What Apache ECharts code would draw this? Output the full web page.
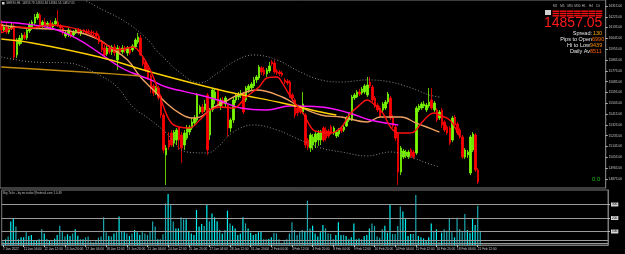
<!DOCTYPE html>
<html>
<head>
<meta charset="utf-8">
<script src="https://cdn.jsdelivr.net/npm/echarts@6/dist/echarts.min.js"></script>
<style>
  html, body { margin: 0; padding: 0; background: #000; }
  #chart { width: 625px; height: 254px; }
</style>
</head>
<body>
<div id="chart"></div>
<script>
// GER30 H4 bars, [open, close, low, high]
const candles = [
  [16165,16115,16090,16198],[16115,16140,16098,16157],[16140,16098,16082,16182],[16098,16132,16082,16148],
  [16132,16148,16115,16182],[16148,15890,15865,16165],[15907,16032,15882,16048],[15998,16048,15982,16073],
  [16032,16073,15998,16090],[16073,16048,16032,16098],[16048,16115,16032,16132],[16107,16157,16090,16182],
  [16140,16182,16115,16198],[16173,16223,16157,16248],[16215,16248,16198,16265],[16240,16140,16132,16257],
  [16148,16182,16132,16198],[16182,16157,16140,16215],[16148,16173,16132,16190],[16173,16140,16123,16198],
  [16140,16165,16123,16182],[16165,16190,16148,16215],[16182,16148,16140,16282],[16148,16132,16107,16165],
  [16132,16090,16073,16148],[16065,16090,16048,16107],[16082,16115,16057,16132],[16107,16065,16048,16123],
  [16073,16098,16057,16115],[16090,16115,16082,16132],[16115,16090,16073,16132],[16082,16107,16065,16123],
  [16115,16107,16090,16123],[16107,16090,16082,16123],[16107,16098,16082,16123],[16098,16090,16073,16115],
  [16090,16082,16065,16107],[16090,16065,16048,16107],[16065,16015,15998,16082],[16015,15949,15932,16032],
  [15965,15907,15890,15990],[15915,15965,15899,15982],[15965,15932,15915,15990],[15932,15974,15907,15990],
  [15974,15924,15899,15998],[15865,15965,15782,15990],[15965,15932,15907,15982],[15932,15965,15915,15990],
  [15965,15940,15924,15982],[15924,15965,15899,15982],[15957,15924,15907,15974],[15949,15982,15932,15998],
  [15974,16032,15957,16048],[16015,16057,15998,16090],[16048,15907,15899,16073],[15882,15832,15815,15899],
  [15849,15782,15765,15865],[15799,15715,15699,15815],[15732,15632,15590,15749],[15649,15590,15565,15665],
  [15590,15632,15574,15649],[15632,15549,15532,15649],[15565,15407,15382,15582],[15407,15116,15091,15424],
  [15074,15132,14824,15157],[15199,15141,15116,15265],[15257,15157,15141,15282],[15174,15265,15141,15282],
  [15199,15282,15157,15299],[15299,15199,15116,15315],[15240,15132,15007,15265],[15157,15257,15116,15282],
  [15215,15299,15199,15324],[15265,15307,15240,15324],[15299,15349,15282,15382],[15340,15382,15324,15407],
  [15365,15574,15349,15590],[15432,15474,15415,15490],[15474,15432,15415,15499],[15449,15499,15432,15532],
  [15574,15116,15074,15590],[15240,15449,15199,15465],[15449,15615,15432,15632],[15532,15599,15499,15632],
  [15615,15482,15465,15632],[15482,15532,15449,15549],[15532,15499,15474,15557],[15499,15549,15465,15565],
  [15490,15299,15224,15507],[15299,15365,15265,15382],[15365,15532,15340,15557],[15532,15565,15507,15590],
  [15557,15582,15532,15599],[15574,15590,15549,15615],[15590,15432,15415,15599],[15532,15632,15515,15649],
  [15615,15649,15590,15665],[15632,15665,15615,15682],[15649,15699,15632,15724],[15699,15724,15674,15740],
  [15715,15807,15699,15824],[15799,15765,15740,15815],[15782,15749,15732,15807],[15749,15782,15724,15799],
  [15774,15815,15757,15849],[15849,15832,15815,15865],[15840,15765,15749,15865],[15774,15757,15740,15790],
  [15765,15749,15732,15782],[15757,15740,15724,15774],[15699,15682,15665,15715],[15690,15674,15657,15707],
  [15682,15565,15549,15699],[15574,15549,15532,15590],[15532,15407,15382,15549],[15465,15424,15399,15482],
  [15474,15432,15415,15490],[15432,15499,15415,15599],[15407,15157,15132,15424],[15199,15141,15116,15215],
  [15132,15240,15099,15257],[15157,15224,15116,15249],[15182,15249,15132,15265],[15199,15257,15149,15282],
  [15199,15265,15157,15282],[15299,15199,15182,15315],[15282,15215,15190,15307],[15274,15232,15215,15290],
  [15307,15257,15240,15324],[15257,15299,15240,15315],[15232,15265,15215,15282],[15249,15282,15224,15299],
  [15299,15274,15257,15315],[15282,15307,15265,15324],[15315,15382,15307,15399],[15365,15399,15349,15424],
  [15365,15557,15357,15574],[15549,15574,15532,15590],[15557,15599,15549,15615],[15599,15582,15565,15624],
  [15590,15624,15574,15640],[15599,15649,15582,15665],[15574,15657,15557,15724],[15682,15649,15632,15724],
  [15640,15532,15515,15657],[15549,15482,15465,15565],[15490,15449,15432,15507],[15465,15399,15382,15482],
  [15449,15499,15432,15515],[15465,15515,15449,15532],[15515,15582,15499,15599],[15549,15382,15365,15565],
  [15382,15315,15299,15407],[15307,15215,15190,15324],[15249,14932,14824,15265],[14932,15132,14907,15149],
  [15057,15107,15041,15124],[15066,15099,15049,15116],[15057,15099,15041,15116],[15116,15066,15049,15132],
  [15099,15057,15041,15116],[15091,15465,15074,15482],[15449,15482,15432,15499],[15465,15499,15449,15515],
  [15482,15499,15465,15524],[15449,15490,15432,15507],[15482,15515,15465,15632],[15532,15465,15449,15632],
  [15449,15507,15432,15524],[15449,15365,15349,15465],[15382,15432,15365,15449],[15449,15324,15299,15465],
  [15349,15282,15265,15365],[15307,15257,15240,15324],[15299,15174,15157,15315],[15199,15382,15182,15399],
  [15390,15324,15299,15407],[15332,15257,15240,15349],[15282,15224,15207,15299],[15224,15057,15041,15240],
  [15057,15116,15041,15132],[15074,15099,15049,15116],[14924,15224,14907,15240],[15116,15249,15099,15265],
  [15240,14949,14932,15257],[14949,14849,14832,14966]
];

// tick counts of the "Big Ticks" window, one per bar
const ticks = [
  25,42,62,173,192,136,42,57,57,94,67,74,37,37,42,116,86,44,32,32,47,74,143,94,62,79,67,86,116,69,
  42,42,57,62,25,20,32,54,62,205,94,67,62,86,94,210,99,94,86,67,86,111,94,74,106,86,74,96,173,136,
  42,42,79,308,377,294,173,123,123,205,190,190,106,86,74,259,136,155,141,303,173,234,205,175,111,86,111,254,160,143,
  123,74,86,205,160,123,91,74,81,94,99,42,42,44,57,91,86,42,17,30,42,86,168,111,74,94,111,
  106,328,123,143,86,62,94,148,123,86,81,42,74,168,74,74,67,42,57,160,42,49,42,67,74,123,160,141,62,54,
  116,143,91,301,81,81,141,284,247,192,67,81,81,370,67,57,49,30,57,160,99,116,20,91,116,106,192,94,57,202,
  116,94,229,111,91,197,148,291,106
];

// indicator lines, sparse [barIndex, price] points
const fastMa = [
  [0,16090],[7,16140],[11,16132],[19,16157],[26,16140],[33,16098],[38,16032],[42,15974],[45,15949],
  [49,15965],[51,15974],[55,15890],[59,15724],[63,15474],[66,15340],[69,15307],[73,15299],[77,15365],
  [81,15449],[85,15474],[90,15465],[95,15557],[100,15640],[103,15715],[107,15724],[109,15674],[113,15532],
  [117,15424],[121,15282],[124,15265],[128,15257],[132,15307],[135,15407],[139,15490],[142,15532],
  [144,15507],[148,15424],[151,15307],[154,15257],[158,15257],[160,15265],[163,15340],[166,15407],
  [168,15424],[170,15407],[174,15365],[177,15265],[178,15224]
];
const midMa = [
  [0,16157],[9,16132],[19,16123],[31,16090],[38,16032],[42,15974],[49,15865],[54,15724],[59,15615],
  [64,15507],[69,15424],[74,15382],[77,15390],[82,15465],[88,15532],[92,15574],[99,15615],[109,15557],
  [116,15474],[124,15407],[132,15390],[142,15349],[147,15390],[151,15390],[155,15390],[161,15340],
  [165,15307],[170,15265]
];
const midMaRising = [[15,22],[77,92],[130,134],[146,151]];
const slowMa = [
  [0,16182],[6,16173],[19,16132],[29,16048],[38,15924],[46,15807],[51,15757],[58,15699],[64,15640],
  [77,15574],[84,15532],[93,15465],[103,15449],[112,15482],[124,15474],[135,15424],[143,15365],[154,15324]
];
const trendMa = [
  [0,16040],[12,16007],[38,15890],[58,15765],[77,15657],[90,15590],[109,15507],[124,15432],[130,15407]
];
const longMa = [[0,15807],[19,15782],[38,15757],[54,15732]];
const upperBand = [
  [31,16382],[38,16298],[45,16223],[50,16157],[54,16090],[58,16007],[60,15949],[64,15865],[68,15782],
  [77,15674],[84,15757],[90,15849],[98,15907],[107,15865],[116,15765],[124,15699],[132,15682],[142,15699],
  [151,15682],[159,15632],[166,15574],[170,15557]
];
const lowerBand = [
  [0,15890],[12,15849],[26,15840],[38,15740],[45,15640],[51,15474],[58,15365],[64,15257],[72,15099],
  [80,15091],[84,15141],[90,15265],[98,15324],[107,15282],[116,15199],[124,15132],[132,15099],[142,15066],
  [151,15099],[159,15057],[165,15007],[170,14974]
];

const dateLabels = [
  "7 Jan 2022","11 Jan 04:00","12 Jan 12:00","13 Jan 20:00","17 Jan 04:00","18 Jan 12:00",
  "19 Jan 20:00","21 Jan 04:00","24 Jan 12:00","25 Jan 20:00","27 Jan 04:00","28 Jan 12:00",
  "31 Jan 20:00","2 Feb 04:00","3 Feb 12:00","4 Feb 20:00","8 Feb 04:00","9 Feb 12:00",
  "10 Feb 20:00","14 Feb 04:00","15 Feb 12:00","16 Feb 20:00","18 Feb 04:00","21 Feb 12:00"
];
const priceTicks = [14875,14965,15055,15145,15235,15325,15415,15505,15595,15685,15775,15865,15955,16045,16135,16225,16315];
const tickLevels = [100, 200, 300];
const lastPrice = 14857.05;

const BAR_SLOTS = 235;
const LABEL_STEP = 8;
const categories = Array.from({ length: BAR_SLOTS }, (_, i) => String(i));

const FONT = "Liberation Sans";
const AXIS_GREY = "#7a7a7a";
const UP = "#7cfc00";
const DOWN = "#ff0000";

const chart = echarts.init(document.getElementById("chart"), null, { renderer: "canvas" });

const isDateTick = (i) => i % LABEL_STEP === 0 && i / LABEL_STEP < dateLabels.length;

function maLine(name, data, color, extra) {
  return Object.assign({
    name,
    type: "line",
    data,
    smooth: 0.4,
    showSymbol: false,
    silent: true,
    z: 4,
    lineStyle: { color, width: 1.4 },
  }, extra || {});
}

const tfLabels = ["M1", "M5", "M15", "M30", "H1", "H4", "D1"];
const panelGraphics = [];
tfLabels.forEach((tf, i) => {
  const x = 553 + i * 7.2;
  panelGraphics.push({
    type: "text", left: x, top: 5,
    style: { text: tf, fill: "#bdbdbd", font: `3px ${FONT}` },
  });
  for (let r = 0; r < 3; r++) {
    panelGraphics.push({
      type: "rect", shape: { x: x - 0.5, y: 10.5 + r * 2.3, width: 6.6, height: 1.4 },
      style: { fill: "#ff1010" },
    });
  }
});
panelGraphics.push(
  { type: "rect", shape: { x: 545, y: 10, width: 6, height: 5 }, style: { fill: "#cfcfcf" } },
  { type: "text", left: 544, top: 16, style: { text: "14857.05", fill: "#ff1a1a", font: `14px ${FONT}` } },
  { type: "text", right: 33, top: 30.5, style: { text: "Spread:", fill: "#e8e8e8", font: `5.5px ${FONT}`, align: "right" } },
  { type: "text", left: 593, top: 30.5, style: { text: "130", fill: "#ffa500", font: `5.5px ${FONT}` } },
  { type: "text", right: 33, top: 36.5, style: { text: "Pips to Open", fill: "#e8e8e8", font: `5.5px ${FONT}`, align: "right" } },
  { type: "text", left: 592, top: 36.5, style: { text: "6990", fill: "#ff6a00", font: `5.5px ${FONT}` } },
  { type: "text", right: 35, top: 42.5, style: { text: "Hi to Low", fill: "#e8e8e8", font: `5.5px ${FONT}`, align: "right" } },
  { type: "text", left: 590, top: 42.5, style: { text: "9439", fill: "#ff8c00", font: `5.5px ${FONT}` } },
  { type: "text", right: 35, top: 48.5, style: { text: "Daily Av", fill: "#e8e8e8", font: `5.5px ${FONT}`, align: "right" } },
  { type: "text", left: 590, top: 48.5, style: { text: "8511", fill: "#ff5a00", font: `5.5px ${FONT}` } },
  { type: "text", left: 592, top: 176, style: { text: "0.0", fill: "#1fbf1f", font: `6px ${FONT}` } },
  { type: "rect", shape: { x: 2, y: 2, width: 2.5, height: 2.5 }, style: { fill: "#d0d0d0" } },
  { type: "text", left: 6, top: 1.5, style: { text: "GER30,H4  14859.78 14920.84 14846.56 14857.05", fill: "#bdbdbd", font: `3px ${FONT}` } },
  { type: "text", left: 3, top: 192, style: { text: "Big Ticks - by mr.esdar@hotmail.com 1.0.49", fill: "#bdbdbd", font: `3px ${FONT}` } }
);

const option = {
  backgroundColor: "#000",
  animation: false,
  grid: [
    { left: 0, right: 17, top: 0, height: 188, show: true, borderColor: AXIS_GREY, borderWidth: 1, backgroundColor: "#000" },
    { left: 0, right: 17, top: 190, height: 55, show: true, borderColor: AXIS_GREY, borderWidth: 1, backgroundColor: "#000" },
  ],
  xAxis: [
    {
      type: "category", gridIndex: 0, data: categories, boundaryGap: true,
      axisLine: { show: false }, axisTick: { show: false }, axisLabel: { show: false }, splitLine: { show: false },
    },
    {
      type: "category", gridIndex: 1, data: categories, boundaryGap: true,
      axisLine: { show: true, lineStyle: { color: AXIS_GREY } },
      axisTick: { show: true, interval: (i) => isDateTick(i), length: 2, alignWithLabel: true, lineStyle: { color: "#bdbdbd" } },
      axisLabel: {
        show: true, interval: (i) => isDateTick(i),
        formatter: (v, i) => dateLabels[i / LABEL_STEP] || "",
        color: "#c8c8c8", fontSize: 3.2, fontFamily: FONT, align: "left", margin: 3,
      },
      splitLine: { show: false },
    },
  ],
  yAxis: [
    {
      type: "value", gridIndex: 0, position: "right", min: 14799, max: 16365, scale: true,
      axisLine: { show: true, lineStyle: { color: AXIS_GREY } },
      axisTick: { show: true, length: 2, customValues: priceTicks, lineStyle: { color: "#bdbdbd" } },
      axisLabel: {
        show: true, customValues: priceTicks, formatter: (v) => v.toFixed(2),
        color: "#c8c8c8", fontSize: 3.2, fontFamily: FONT, margin: 3,
      },
      splitLine: { show: false },
    },
    {
      type: "value", gridIndex: 1, position: "right", min: 0, max: 407,
      axisLine: { show: true, lineStyle: { color: AXIS_GREY } },
      axisTick: { show: true, length: 2, customValues: tickLevels, lineStyle: { color: "#bdbdbd" } },
      axisLabel: {
        show: true, customValues: tickLevels, formatter: (v) => String(v),
        color: "#000", backgroundColor: "#d8d8d8", padding: [0.5, 1], fontSize: 3.2, fontFamily: FONT, margin: 3,
      },
      splitLine: { show: false },
    },
  ],
  visualMap: [
    {
      type: "piecewise", show: false, seriesIndex: 2, dimension: 0,
      pieces: midMaRising.map(([a, b]) => ({ gte: a, lte: b, color: "#1fa8e6" })),
      outOfRange: { color: "#f0a060" },
    },
  ],
  graphic: panelGraphics,
  series: [
    {
      name: "GER30", type: "candlestick", xAxisIndex: 0, yAxisIndex: 0, data: candles,
      barWidth: 2, silent: true, z: 2,
      itemStyle: { color: UP, color0: DOWN, borderColor: UP, borderColor0: DOWN, borderWidth: 0.8 },
      markLine: {
        silent: true, symbol: "none",
        lineStyle: { opacity: 0 },
        data: [{ yAxis: lastPrice }],
        label: {
          position: "end", formatter: lastPrice.toFixed(2), color: "#000", backgroundColor: "#fff",
          fontSize: 3.4, fontFamily: FONT, padding: [0.6, 1], distance: 2,
        },
      },
    },
    maLine("fast", fastMa, "#ff1010", { z: 5 }),
    maLine("mid", midMa, "#f0a060"),
    maLine("slow", slowMa, "#ff10ff"),
    maLine("trend", trendMa, "#ffd000"),
    maLine("long", longMa, "#c08a10"),
    maLine("upper", upperBand, "#8a8a8a", { lineStyle: { color: "#8a8a8a", width: 1, type: [1, 2] } }),
    maLine("lower", lowerBand, "#8a8a8a", { lineStyle: { color: "#8a8a8a", width: 1, type: [1, 2] } }),
    {
      name: "ticks", type: "bar", xAxisIndex: 1, yAxisIndex: 1, silent: true, barWidth: 1.2,
      data: ticks.map((v, i) => ({
        value: v,
        itemStyle: { color: candles[i] && candles[i][1] >= candles[i][0] ? "#00eef0" : "#1aa8b0" },
      })),
      markLine: {
        silent: true, symbol: "none", label: { show: false },
        lineStyle: { color: "#9a9a9a", width: 1, type: "solid" },
        data: [15, 37].concat(tickLevels).map((v) => ({ yAxis: v })),
      },
    },
  ],
};

chart.setOption(option);
</script>
</body>
</html>
